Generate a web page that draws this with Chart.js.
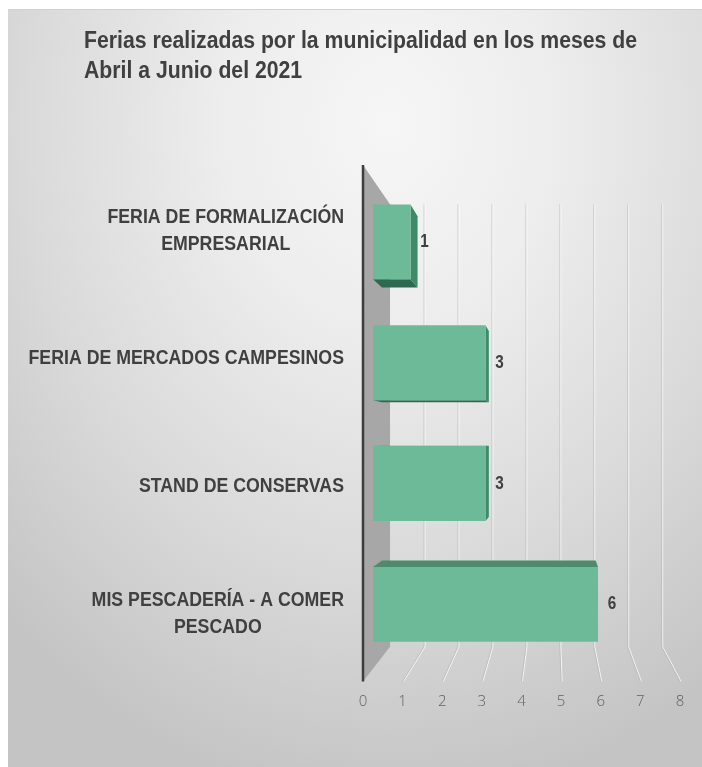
<!DOCTYPE html>
<html><head><meta charset="utf-8">
<script src="https://cdn.jsdelivr.net/npm/chart.js@4.4.1/dist/chart.umd.min.js"></script>
<style>
html,body{margin:0;padding:0;background:#fff;width:702px;height:767px;overflow:hidden}
#panel{position:absolute;left:8px;top:9px;width:694px;height:758px;border-top:1px solid #d2d2d2;box-sizing:border-box;
background:radial-gradient(ellipse 80% 90% at 55% 15%, #f6f6f6 0%, #ededed 30%, #dadada 65%, #c4c4c4 100%);}
#wrap{position:absolute;left:0;top:0;width:702px;height:767px}
</style></head><body>
<div id="panel"></div>
<div id="wrap"><canvas id="c" width="702" height="767"></canvas></div>
<script>
// ---- data ----
const titleLines = ['Ferias realizadas por la municipalidad en los meses de', 'Abril a Junio del 2021'];
const categories = [
  ['FERIA DE FORMALIZACIÓN', 'EMPRESARIAL'],
  ['FERIA DE MERCADOS CAMPESINOS'],
  ['STAND DE CONSERVAS'],
  ['MIS PESCADERÍA - A COMER', 'PESCADO']
];
const values = [1, 3, 3, 6];
const xTicks = [0, 1, 2, 3, 4, 5, 6, 7, 8];

// ---- style ----
const SANS = "'Liberation Sans', Arial, sans-serif";
const VP = {x: 552, y: 440};   // vanishing point of the 3D look
const S_BAR = 0.947;           // bar front plane relative to axis front plane
const S_WALL = 0.857;          // back wall depth
const S_DEPTH = 0.95;          // bar depth

function toward(p, s) { return {x: VP.x + s * (p.x - VP.x), y: VP.y + s * (p.y - VP.y)}; }
function poly(ctx, pts, fill) {
  ctx.beginPath(); ctx.moveTo(pts[0].x, pts[0].y);
  for (let i = 1; i < pts.length; i++) ctx.lineTo(pts[i].x, pts[i].y);
  ctx.closePath(); ctx.fillStyle = fill; ctx.fill();
}
// condensed text: draw with a horizontal squeeze
function narrowText(ctx, s, x, y, sx) {
  ctx.save(); ctx.translate(x, y); ctx.scale(sx, 1); ctx.fillText(s, 0, 0); ctx.restore();
}

const threeD = {
  id: 'threeD',
  beforeDatasetsDraw(chart) {
    const ctx = chart.ctx, xs = chart.scales.x, ca = chart.chartArea;
    const fTop = VP.y + (ca.top - VP.y) / S_BAR - 2;
    const fBot = VP.y + (ca.bottom - VP.y) / S_BAR + 4;
    ctx.save();
    xTicks.forEach(v => {
      if (v === 0) return;
      const xf = xs.getPixelForValue(v);
      const bt = toward({x: xf, y: fTop}, S_WALL);
      const bb = toward({x: xf, y: fBot}, S_WALL);
      [['rgba(255,255,255,0.8)', 1], ['rgba(170,170,170,0.45)', 0]].forEach(([c, off]) => {
        ctx.beginPath();
        ctx.moveTo(bt.x + off, bt.y); ctx.lineTo(bb.x + off, bb.y); ctx.lineTo(xf + off, fBot);
        ctx.strokeStyle = c; ctx.lineWidth = 1; ctx.stroke();
      });
    });
    const x0 = xs.getPixelForValue(0);
    poly(ctx, [{x: x0, y: fTop}, toward({x: x0, y: fTop}, S_WALL), toward({x: x0, y: fBot}, S_WALL), {x: x0, y: fBot}], '#a7a7a7');
    ctx.beginPath(); ctx.moveTo(x0, fTop); ctx.lineTo(x0, fBot);
    ctx.strokeStyle = '#3d3d3d'; ctx.lineWidth = 2.5; ctx.stroke();
    chart.getDatasetMeta(0).data.forEach(el => {
      const l = el.base, r = el.x, t = el.y - el.height / 2, b = el.y + el.height / 2;
      if (t > VP.y) poly(ctx, [{x: l, y: t}, {x: r, y: t}, toward({x: r, y: t}, S_DEPTH), toward({x: l, y: t}, S_DEPTH)], '#4f8a6f');
      if (b < VP.y) poly(ctx, [{x: l, y: b}, {x: r, y: b}, toward({x: r, y: b}, S_DEPTH), toward({x: l, y: b}, S_DEPTH)], '#2e6a4f');
      if (r < VP.x) poly(ctx, [{x: r, y: t}, {x: r, y: b}, toward({x: r, y: b}, S_DEPTH), toward({x: r, y: t}, S_DEPTH)], '#3f8a68');
    });
    ctx.restore();
  },
  afterDatasetsDraw(chart) {
    const ctx = chart.ctx;
    ctx.save();
    ctx.font = 'bold 18px ' + SANS;
    ctx.fillStyle = '#404040'; ctx.textAlign = 'center'; ctx.textBaseline = 'middle';
    chart.getDatasetMeta(0).data.forEach((el, i) => narrowText(ctx, String(values[i]), el.x + 14, el.y, 0.85));
    ctx.restore();
  },
  afterDraw(chart) {
    const ctx = chart.ctx, ys = chart.scales.y;
    ctx.save();
    ctx.fillStyle = '#404040';
    ctx.font = 'bold 23px ' + SANS;
    ctx.textAlign = 'left'; ctx.textBaseline = 'alphabetic';
    const tsx = 553 / ctx.measureText(titleLines[0]).width;
    titleLines.forEach((s, j) => narrowText(ctx, s, 84, 48 + j * 30, tsx));
    ctx.font = 'bold 21px ' + SANS;
    ctx.textAlign = 'center'; ctx.textBaseline = 'middle';
    const sx = 0.845, right = 344, lh = 27;
    categories.forEach((lines, i) => {
      const yb = ys.getPixelForValue(i);
      const yf = VP.y + (yb - VP.y) / S_BAR;
      const w = Math.max(...lines.map(s => ctx.measureText(s).width)) * sx;
      const cx = right - w / 2;
      lines.forEach((s, j) => narrowText(ctx, s, cx, yf + (j - (lines.length - 1) / 2) * lh, sx));
    });
    ctx.restore();
  }
};

new Chart(document.getElementById('c'), {
  type: 'bar',
  data: {
    labels: categories,
    datasets: [{
      data: values,
      xAxisID: 'x2',
      backgroundColor: '#6cba97',
      borderWidth: 0,
      barPercentage: 0.62,
      categoryPercentage: 1
    }]
  },
  options: {
    indexAxis: 'y',
    responsive: false,
    animation: false,
    layout: {padding: {left: 84, right: 22, top: 181.5, bottom: 28.2}},
    plugins: {
      legend: {display: false},
      tooltip: {enabled: false},
      title: {display: false}
    },
    scales: {
      y: {
        type: 'category',
        ticks: {display: false},
        grid: {display: false, drawTicks: false},
        border: {display: false},
        afterFit(s) { s.width = 279; }
      },
      x: {
        type: 'linear', min: 0, max: 8,
        afterBuildTicks(s) { s.ticks = xTicks.map(v => ({value: v})); },
        ticks: {color: '#606060', padding: 28, font: {family: "'Open Sans', 'Lato', sans-serif", size: 15, weight: 300}},
        grid: {display: false, drawTicks: false},
        border: {display: false},
        afterFit(s) { s.paddingLeft = 0; s.paddingRight = 0; }
      },
      x2: {
        type: 'linear', display: false, min: -0.267, max: 8.187
      }
    }
  },
  plugins: [threeD]
});
</script>
</body></html>
